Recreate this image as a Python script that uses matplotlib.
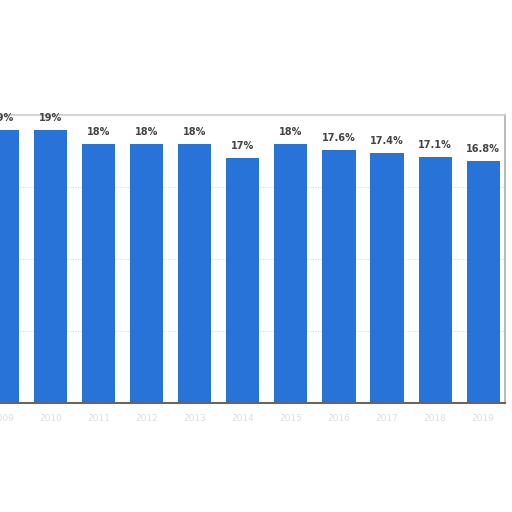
import matplotlib
matplotlib.use("Agg")
import matplotlib.pyplot as plt

years = ["2009", "2010", "2011", "2012", "2013", "2014", "2015", "2016", "2017", "2018", "2019"]
values = [19.0, 19.0, 18.0, 18.0, 18.0, 17.0, 18.0, 17.6, 17.4, 17.1, 16.8]
labels = ["19%", "19%", "18%", "18%", "18%", "17%", "18%", "17.6%", "17.4%", "17.1%", "16.8%"]

fig = plt.figure(figsize=(5.12, 5.12), dpi=100)
fig.patch.set_facecolor("white")
ax = fig.add_axes([0.0, 0.213, 0.986, 0.562])
ax.set_facecolor("white")

x = list(range(len(values)))
ax.bar(x, values, width=0.69, color="#2873d8", zorder=2)
for xi, v, lab in zip(x, values, labels):
    ax.annotate(lab, (xi, v), xytext=(0, 5), textcoords="offset points",
                ha="center", va="bottom", fontsize=7, fontweight="bold",
                color="#444444", zorder=3)

ax.set_xlim(-0.05, 10.45)
ax.set_ylim(0, 20)
ax.set_yticks([5, 10, 15])
ax.yaxis.grid(True, linestyle=(0, (1, 2)), color="#cccccc", linewidth=0.6, zorder=1)
ax.tick_params(axis="y", left=False, labelleft=False)
ax.set_xticks(x)
ax.set_xticklabels(years, fontsize=6.5, color="#dddddd")
ax.tick_params(axis="x", length=0, pad=8)

for s in ["left"]:
    ax.spines[s].set_visible(False)
ax.spines["top"].set_color("#cccccc")
ax.spines["top"].set_linewidth(1.2)
ax.spines["right"].set_color("#bbbbbb")
ax.spines["right"].set_linewidth(1.5)
ax.spines["bottom"].set_color("#666666")
ax.spines["bottom"].set_linewidth(1.5)

fig.savefig("out.png", dpi=100, facecolor="white")
